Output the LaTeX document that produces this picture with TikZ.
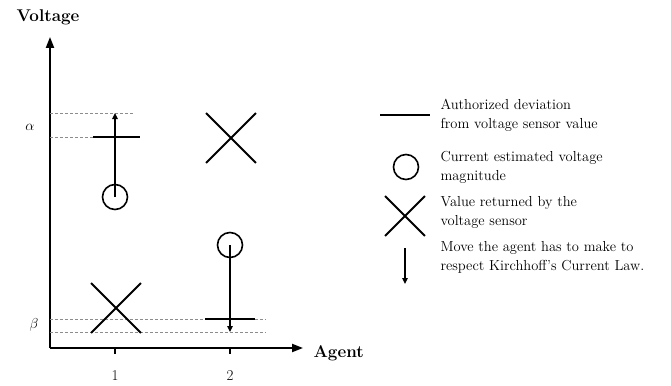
\documentclass[tikz,border=0pt]{standalone}
\usepackage{tikz}
\usetikzlibrary{arrows.meta, positioning, shapes.misc}
\tikzset{
  axis/.style={-{Triangle[length=11pt,width=8pt]}, line width=2pt},
  axlabel/.style={font=\fontsize{17}{20}\selectfont\bfseries},
  guide/.style={densely dashed, black!45, line width=0.9pt},
  devbar/.style={line width=2.4pt},
  est/.style={draw, circle, line width=1.6pt, minimum size=25pt, inner sep=0pt},
  sensor/.style={draw, cross out, line width=1.8pt, minimum size=48pt, inner sep=0pt},
  move/.style={-{Triangle[length=6pt,width=5.5pt]}, line width=1.4pt},
  legtext/.style={anchor=west, align=left, font=\fontsize{14.5}{19}\selectfont},
}
\begin{document}
\begin{tikzpicture}[x=1pt, y=-1pt, every node/.style={font=\fontsize{15}{18}\selectfont}]
  \useasboundingbox (0,0) rectangle (671,385);

  % axes
  \coordinate (origin) at (50,348);
  \coordinate (ytop) at (50,37);
  \coordinate (xend) at (303,348);
  \draw[axis] (origin) -- (ytop);
  \draw[axis] (origin) -- (xend);
  \node[axlabel] (vlab) at (48,17) {Voltage};
  \node[axlabel, anchor=west] (alab) at (310,353) {Agent};

  \draw[line width=1.2pt] (115,348) -- (115,354);
  \draw[line width=1.2pt] (230,348) -- (230,354);
  \node (tick1) at (115,376) {1};
  \node (tick2) at (230,376) {2};

  % bounds
  \draw[guide] (50,113) -- (133,113);
  \draw[guide] (50,137) -- (133,137);
  \draw[guide] (50,319) -- (266,319);
  \draw[guide] (50,332) -- (266,332);
  \node (alpha) at (30,127) {$\alpha$};
  \node (beta) at (34,325) {$\beta$};

  % agent 1
  \node[sensor] (sens1) at (116,308) {};
  \node[est] (est1) at (115,197) {};
  \draw[devbar] (93,137) -- (140,137);
  \coordinate (move1) at (115,113);
  \draw[move] (est1.center) -- (move1);

  % agent 2
  \node[sensor] (sens2) at (231,138) {};
  \node[est] (est2) at (230,245) {};
  \draw[devbar] (205,319) -- (255,319);
  \coordinate (move2) at (230,332);
  \draw[move] (est2.center) -- (move2);

  % legend
  \draw[devbar] (380,115) -- (430,115);
  \node[est] (legest) at (406,167) {};
  \node[sensor, minimum size=38pt] (legsens) at (405,216) {};
  \coordinate (legmove0) at (405,248);
  \coordinate (legmove1) at (405,284);
  \draw[move] (legmove0) -- (legmove1);

  \node[legtext] (txtdev) at (437,115) {Authorized deviation\\from voltage sensor value};
  \node[legtext] (txtest) at (437,167) {Current estimated voltage\\magnitude};
  \node[legtext] (txtsens) at (437,212) {Value returned by the\\voltage sensor};
  \node[legtext] (txtmove) at (437,257) {Move the agent has to make to\\respect Kirchhoff's Current Law.};
\end{tikzpicture}
\end{document}
